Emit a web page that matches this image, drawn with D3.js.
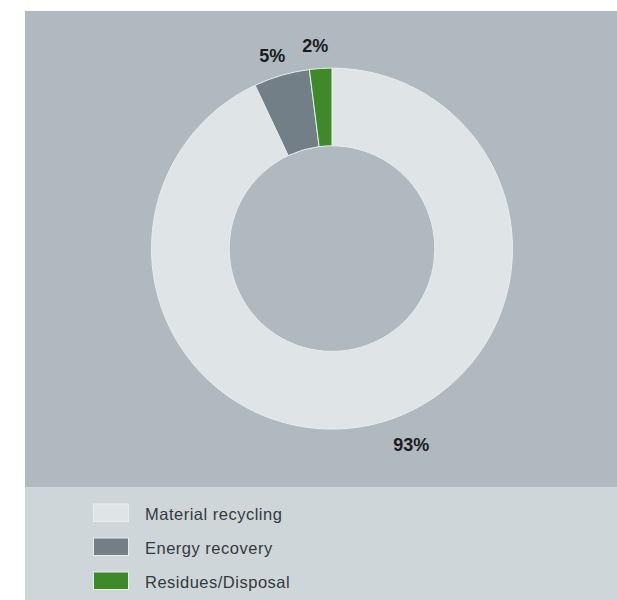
<!DOCTYPE html>
<html>
<head>
<meta charset="utf-8">
<script src="https://cdn.jsdelivr.net/npm/d3@7"></script>
<style>
  html, body { margin: 0; padding: 0; background: #ffffff; }
  svg { display: block; }
</style>
</head>
<body>
<svg id="chart" width="617" height="600"></svg>
<script>
// Waste treatment shares (percent)
const categories = ["Material recycling", "Energy recovery", "Residues/Disposal"];
const shares = [93, 5, 2];
const labels = ["93%", "5%", "2%"];
const colors = ["#dfe4e7", "#737f87", "#3e8a28"];

const svg = d3.select("#chart");
const W = 617, H = 600;

// Background panels
svg.append("rect").attr("x", 25).attr("y", 11).attr("width", W - 25).attr("height", 476).attr("fill", "#afb9bf");
svg.append("rect").attr("x", 25).attr("y", 487).attr("width", W - 25).attr("height", H - 487).attr("fill", "#cfd6d9");

// Donut
const cx = 332, cy = 248.6;
const outerR = 180.5, innerR = 102.8;

const data = categories.map((c, i) => ({ name: c, value: shares[i], label: labels[i], color: colors[i] }));

const pie = d3.pie().value(d => d.value).sort(null);
const arcs = pie(data);
const arc = d3.arc().innerRadius(innerR).outerRadius(outerR);

const g = svg.append("g").attr("transform", `translate(${cx},${cy})`);
g.selectAll("path.slice")
  .data(arcs)
  .join("path")
  .attr("class", "slice")
  .attr("d", arc)
  .attr("fill", d => d.data.color)
  .attr("stroke", "#e9edef")
  .attr("stroke-width", 1);

// Value labels sit outside the ring; each gets a small angular nudge and radius
const labelLayout = [
  { shift: -0.163, r: 212 },
  { shift: -0.017, r: 202 },
  { shift: -0.019, r: 203.5 }
];
function labelPos(d, i) {
  const a = (d.startAngle + d.endAngle) / 2 + labelLayout[i].shift;
  const r = labelLayout[i].r;
  return [Math.sin(a) * r, -Math.cos(a) * r];
}
g.selectAll("text.value")
  .data(arcs)
  .join("text")
  .attr("class", "value")
  .attr("x", (d, i) => labelPos(d, i)[0])
  .attr("y", (d, i) => labelPos(d, i)[1])
  .attr("text-anchor", "middle")
  .attr("dominant-baseline", "central")
  .attr("font-family", "'Liberation Sans', Arial, sans-serif")
  .attr("font-weight", "bold")
  .attr("font-size", 18)
  .attr("fill", "#1c1c1c")
  .text(d => d.data.label);

// Legend
const legend = svg.append("g").attr("transform", "translate(93,503.5)");
const rowH = 34;
const rows = legend.selectAll("g.row")
  .data(data)
  .join("g")
  .attr("class", "row")
  .attr("transform", (d, i) => `translate(0,${i * rowH})`);

rows.append("rect")
  .attr("x", 0.5).attr("y", 0.5)
  .attr("width", 35).attr("height", 17.5)
  .attr("fill", d => d.color)
  .attr("stroke", "#e9edef")
  .attr("stroke-width", 1);

rows.append("text")
  .attr("x", 52)
  .attr("y", 16.5)
  .attr("font-family", "'Liberation Sans', Arial, sans-serif")
  .attr("font-size", 16.5)
  .attr("letter-spacing", 0.5)
  .attr("fill", "#333a3e")
  .text(d => d.name);
</script>
</body>
</html>
